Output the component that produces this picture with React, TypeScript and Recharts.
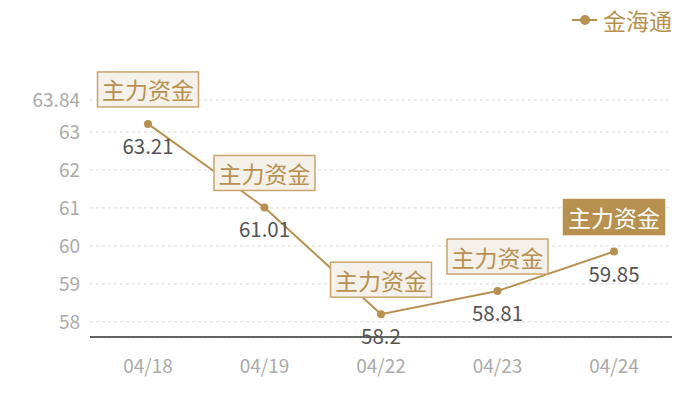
import { LineChart, Line, XAxis, YAxis, CartesianGrid, LabelList } from 'recharts';

const dates = ['04/18', '04/19', '04/22', '04/23', '04/24'];
const values = [63.21, 61.01, 58.2, 58.81, 59.85];
const markTexts = ['主力资金', '主力资金', '主力资金', '主力资金', '主力资金'];
const markActive = [false, false, false, false, true];
const yTicks = [58, 59, 60, 61, 62, 63, 63.84];
const seriesName = '金海通';

const GOLD = '#b8904f';
const FONT = '"Noto Sans CJK SC", "Noto Sans", sans-serif';

const data = dates.map((d, i) => ({ date: d, value: values[i] }));

// value below the dot + the "主力资金" tag box above it
const PointLabel = (props: any) => {
  const { x, y, value, index } = props;
  const active = markActive[index];
  const boxW = 101;
  const boxH = 35;
  const boxY = y - 17 - boxH;
  return (
    <g>
      <text x={x} y={y + 21} textAnchor="middle" dominantBaseline="central" fill="#555" fontSize={20.5} fontFamily={FONT}>
        {value}
      </text>
      <rect
        x={x - boxW / 2}
        y={boxY}
        width={boxW}
        height={boxH}
        fill={active ? GOLD : '#f4f0ea'}
        stroke={active ? GOLD : '#c9a56e'}
        strokeWidth={1.5}
      />
      <text x={x} y={boxY + boxH / 2} textAnchor="middle" dominantBaseline="central" fill={active ? '#fff' : GOLD} fontSize={23} fontFamily={FONT}>
        {markTexts[index]}
      </text>
    </g>
  );
};

export default function App() {
  return (
    <div style={{ position: 'absolute', left: 0, top: 0, width: 700, height: 400, background: '#fff' }}>
      <svg width={110} height={36} style={{ position: 'absolute', left: 570, top: 2 }}>
        <line x1={2} y1={18} x2={27} y2={18} stroke={GOLD} strokeWidth={2} />
        <circle cx={15} cy={18} r={5} fill={GOLD} />
        <text x={33} y={18} dominantBaseline="central" fill={GOLD} fontSize={23} fontFamily={FONT}>
          {seriesName}
        </text>
      </svg>
      <LineChart width={700} height={400} data={data} margin={{ top: 100, right: 28, left: 0, bottom: 0 }}>
        <CartesianGrid vertical={false} stroke="#d8d8d8" strokeDasharray="3 3" />
        <XAxis
          dataKey="date"
          padding={{ left: 58, right: 58 }}
          height={63}
          tickSize={0}
          tickMargin={23}
          tickLine={false}
          stroke="#333"
          axisLine={{ stroke: '#333', strokeWidth: 1.3 }}
          tick={{ fill: '#aaa', fontSize: 19, fontFamily: FONT }}
        />
        <YAxis
          domain={[57.6, 63.84]}
          ticks={yTicks}
          width={90}
          tickSize={0}
          tickMargin={10}
          tickLine={false}
          axisLine={false}
          allowDataOverflow
          tick={{ fill: '#aaa', fontSize: 19, fontFamily: FONT }}
        />
        <Line
          type="linear"
          dataKey="value"
          name={seriesName}
          stroke={GOLD}
          strokeWidth={2}
          dot={{ r: 4, fill: GOLD, stroke: GOLD, strokeWidth: 0 }}
          activeDot={false}
          isAnimationActive={false}
        >
          <LabelList dataKey="value" content={<PointLabel />} />
        </Line>
      </LineChart>
    </div>
  );
}
